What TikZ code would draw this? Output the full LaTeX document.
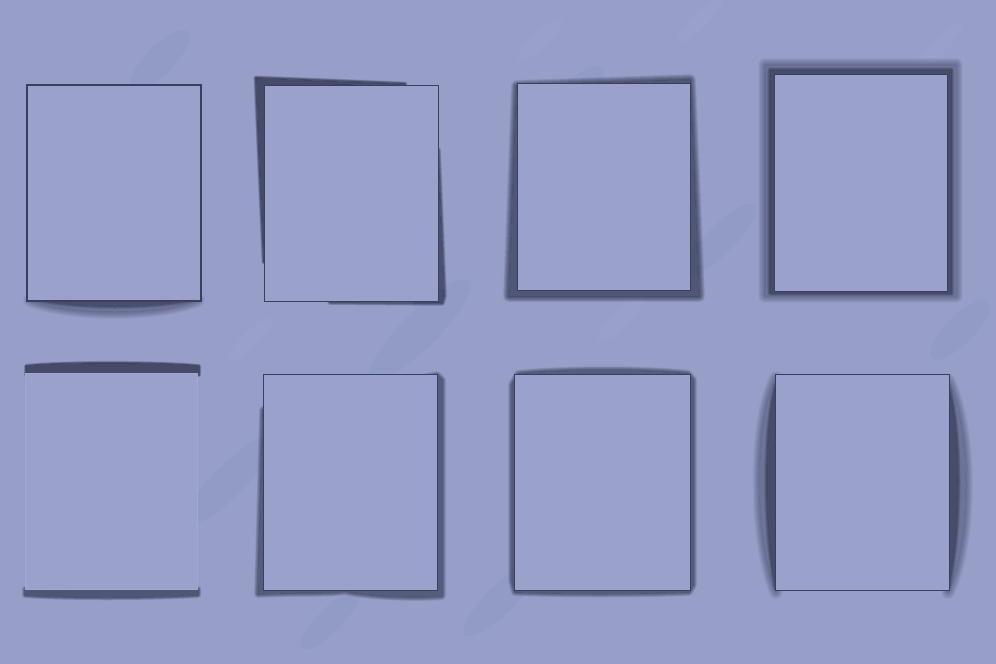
\documentclass[tikz,border=0pt]{standalone}
\usetikzlibrary{positioning}
\definecolor{wall}{RGB}{151,159,201}
\definecolor{paper}{RGB}{154,162,204}
\definecolor{streak}{RGB}{142,151,196}
\definecolor{glow}{RGB}{160,168,208}
\definecolor{dusk}{RGB}{34,38,62}
\definecolor{rim}{RGB}{58,63,94}
% soft shadow: [peak opacity]{spread}{path}
\newcommand{\softshadow}[3][0.6]{%
  \pgfmathsetmacro\shadestep{1-(1-#1)^(1/12)}
  \begin{scope}[even odd rule]
    \clip (-20,-20) rectangle (1016,684) #3;
    \foreach \k in {1,...,12}
      \draw[dusk, draw opacity=\shadestep, line width={#2*\k/12}, line join=round] #3;
  \end{scope}
  \fill[dusk, fill opacity=#1] #3;
}
\tikzset{
  sheet/.style={draw=rim, fill=paper, line width=0.8pt, inner sep=0pt, outer sep=0pt,
    minimum width=174pt, minimum height=216pt},
  blob/.style={fill=streak, fill opacity=0.45},
}
\begin{document}
\begin{tikzpicture}[x=1pt,y=-1pt]
\useasboundingbox (0,0) rectangle (996,664);
\fill[wall] (0,0) rectangle (996,664);
% background streaks
\foreach \x/\y/\a/\b in {90/130/50/16, 160/60/40/14, 310/200/60/18, 420/330/70/18,
  230/480/60/16, 80/560/50/18, 560/110/60/16, 640/420/70/18, 720/240/50/14,
  880/140/60/16, 900/520/60/18, 500/600/50/14, 960/330/40/14, 330/620/40/12}
  \fill[blob, rotate around={45:(\x,\y)}] (\x,\y) ellipse [x radius=\a, y radius=\b];
\foreach \x/\y in {700/20, 540/40, 940/45, 250/340, 620/320}
  \fill[glow, fill opacity=0.25, rotate around={45:(\x,\y)}] (\x,\y) ellipse [x radius=30, y radius=8];

% shadows, top row
\softshadow[0.35]{14}{(30,300) .. controls (70,316) and (160,316) .. (198,300) -- cycle}
\softshadow[0.45]{6}{(40,300) .. controls (80,308) and (150,308) .. (190,300) -- cycle}
\softshadow[0.7]{5}{(256,78) -- (405,84) -- (264,86) -- (264,262) -- (259,150) -- cycle}
\softshadow[0.65]{6}{(438,150) -- (444,296) -- (442,303) -- (330,302) -- (438,300) -- cycle}
\softshadow[0.6]{12}{(517,86) -- (509,296) -- (699,296) -- (690,80) -- cycle}
\softshadow[0.35]{14}{(765,65) rectangle (956,296)}
\softshadow[0.5]{6}{(770,70) rectangle (951,293)}
% shadows, bottom row
\softshadow[0.7]{4}{(26,375) -- (26,366) .. controls (60,362) and (160,362) .. (199,366) -- (199,375) -- cycle}
\softshadow[0.6]{6}{(25,589) -- (198,589) -- (198,595) .. controls (150,598) and (60,598) .. (25,595) -- cycle}
\softshadow[0.55]{8}{(263,410) -- (258,594) .. controls (300,592) and (330,594) .. (345,591)
  .. controls (370,597) and (420,598) .. (442,596) -- (442,380) -- (437,375) -- cycle}
\softshadow[0.55]{8}{(518,374) .. controls (560,369) and (650,369) .. (688,374) -- (693,380)
  -- (693,585) -- (689,592) .. controls (640,594) and (560,594) .. (515,592) -- (512,580) -- (512,385) -- cycle}
\softshadow[0.35]{14}{(776,378) .. controls (754,420) and (754,540) .. (776,592) -- cycle}
\softshadow[0.5]{6}{(776,385) .. controls (764,430) and (764,530) .. (776,588) -- cycle}
\softshadow[0.35]{14}{(948,380) .. controls (972,430) and (972,540) .. (948,592) -- cycle}
\softshadow[0.5]{6}{(948,386) .. controls (961,430) and (961,530) .. (948,588) -- cycle}

% sheets
\node[sheet, line width=1.4pt] (s1) at (114,193) {};
\node[sheet] (s2) at (351,193) {};
\node[sheet, minimum width=173pt, minimum height=207pt] (s3) at (603.5,186.5) {};
\node[sheet, minimum width=173pt, minimum height=217pt] (s4) at (860.5,182.5) {};
\node[sheet, draw=glow, minimum width=172pt] (s5) at (111,481) {};
\node[sheet] (s6) at (350,482) {};
\node[sheet, minimum width=176pt] (s7) at (602,482) {};
\node[sheet] (s8) at (862,482) {};
\end{tikzpicture}
\end{document}
